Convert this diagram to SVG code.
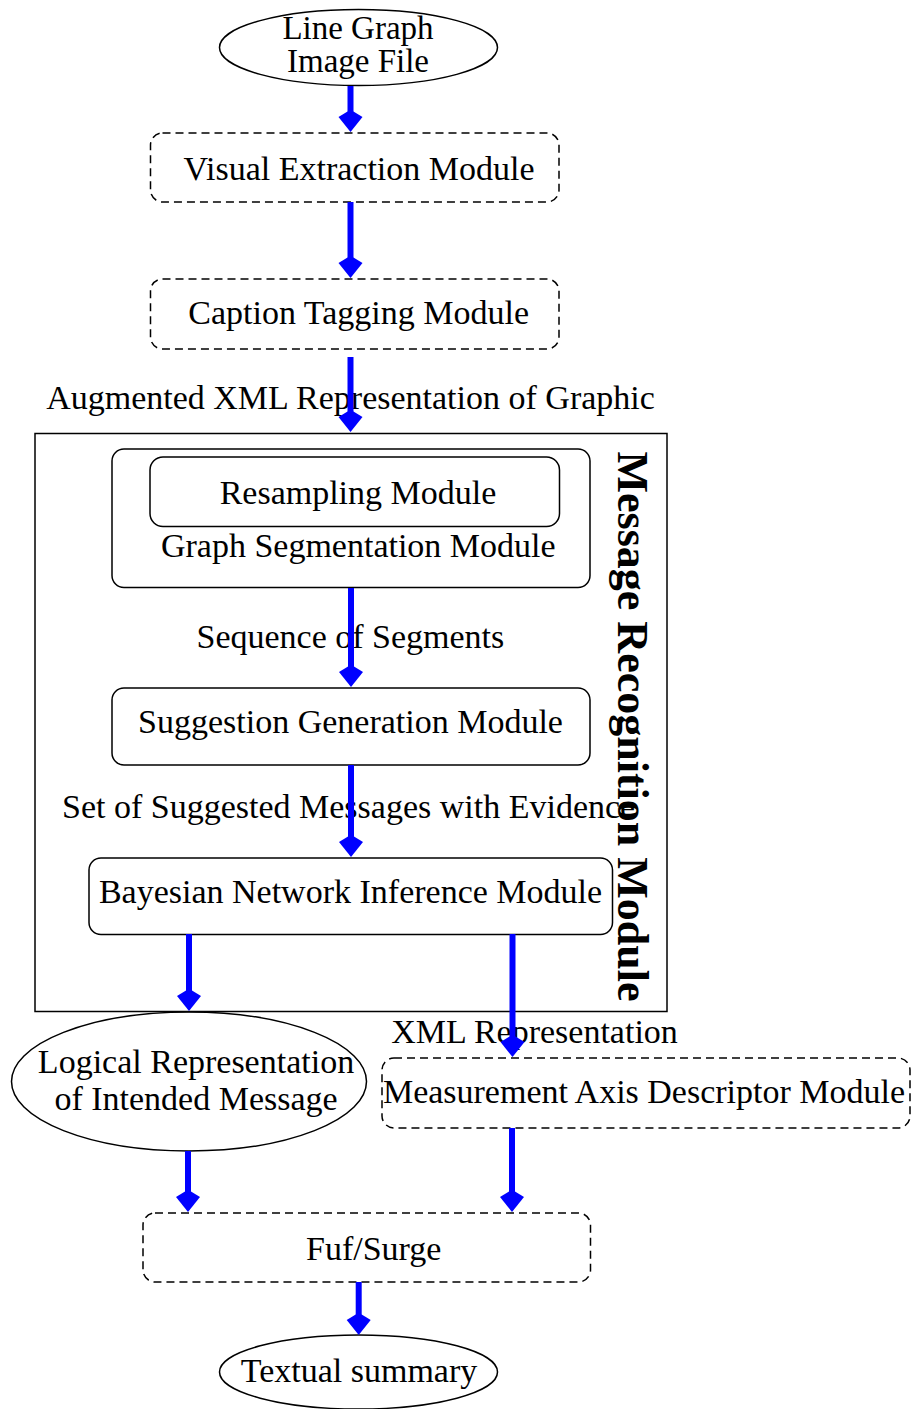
<svg xmlns="http://www.w3.org/2000/svg" xmlns:xlink="http://www.w3.org/1999/xlink" width="914" height="1409" viewBox="0 0 914 1409">
<style>
text{font-family:"Liberation Serif","Times New Roman",serif;font-size:34px;fill:#000;text-anchor:middle}
.solid{fill:none;stroke:#000;stroke-width:1.5}
.dash{fill:none;stroke:#000;stroke-width:1.5;stroke-dasharray:8 5}
.conn line{stroke:#0000ff;stroke-width:6}
.conn use{fill:#0000ff}
</style>
<defs>
<path id="ah" d="M-3,-20.5 L3,-20.5 L12,-15 L0,0 L-12,-15 Z"/>
</defs>
<rect width="914" height="1409" fill="#fff"/>

<g id="line-graph">
<ellipse class="solid" cx="358.5" cy="47.5" rx="139" ry="38"/>
<text x="358" y="39" style="font-size:33px">Line Graph</text>
<text x="358" y="72" style="font-size:33px">Image File</text>
</g>

<g id="visual-extraction">
<rect class="dash" x="150.5" y="133" width="408.5" height="69" rx="12"/>
<text x="359" y="180">Visual Extraction Module</text>
</g>

<g id="caption-tagging">
<rect class="dash" x="150.5" y="279" width="408.5" height="70" rx="12"/>
<text x="358.7" y="324">Caption Tagging Module</text>
</g>

<g id="augmented-label">
<text x="350.5" y="409">Augmented XML Representation of Graphic</text>
</g>

<g id="message-recognition">
<rect class="solid" x="35" y="433.5" width="632" height="578"/>
<text transform="translate(618,726.5) rotate(90)" style="font-weight:bold;font-size:44px">Message Recognition Module</text>
</g>

<g id="graph-segmentation">
<rect class="solid" x="112" y="449" width="478" height="138.5" rx="12"/>
<text x="358.3" y="556.5">Graph Segmentation Module</text>
</g>

<g id="resampling">
<rect class="solid" x="150" y="457" width="409.5" height="69.5" rx="13"/>
<text x="358" y="504">Resampling Module</text>
</g>

<g id="sequence-label">
<text x="350.4" y="648">Sequence of Segments</text>
</g>

<g id="suggestion-generation">
<rect class="solid" x="112" y="688" width="478" height="77" rx="12"/>
<text x="350.5" y="733">Suggestion Generation Module</text>
</g>

<g id="suggested-label">
<text x="62" y="818" style="text-anchor:start">Set of Suggested Messages with Evidence</text>
</g>

<g id="bayesian">
<rect class="solid" x="89" y="858" width="523.5" height="76.5" rx="12"/>
<text x="350.5" y="903">Bayesian Network Inference Module</text>
</g>

<g id="logical-representation">
<ellipse class="solid" cx="189" cy="1081.5" rx="177.5" ry="69.5"/>
<text x="196" y="1073">Logical Representation</text>
<text x="196" y="1110">of Intended Message</text>
</g>

<g id="xml-label">
<text x="534.5" y="1043">XML Representation</text>
</g>

<g id="measurement-axis">
<rect class="dash" x="382" y="1058" width="528" height="70" rx="12"/>
<text x="644" y="1103">Measurement Axis Descriptor Module</text>
</g>

<g id="fuf-surge">
<rect class="dash" x="143" y="1213" width="447.5" height="69" rx="12"/>
<text x="373.7" y="1260">Fuf/Surge</text>
</g>

<g id="textual-summary">
<ellipse class="solid" cx="358.5" cy="1372" rx="139" ry="37"/>
<text x="359" y="1382">Textual summary</text>
</g>

<g id="connectors" class="conn">
<line x1="350.5" y1="86" x2="350.5" y2="112"/>
<use xlink:href="#ah" x="350.5" y="132"/>
<line x1="350.5" y1="202" x2="350.5" y2="258"/>
<use xlink:href="#ah" x="350.5" y="278"/>
<line x1="350.5" y1="357" x2="350.5" y2="412"/>
<use xlink:href="#ah" x="350.5" y="432"/>
<line x1="351" y1="588" x2="351" y2="667"/>
<use xlink:href="#ah" x="351" y="687"/>
<line x1="351" y1="765" x2="351" y2="837"/>
<use xlink:href="#ah" x="351" y="857"/>
<line x1="189" y1="934" x2="189" y2="991"/>
<use xlink:href="#ah" x="189" y="1011"/>
<line x1="512.5" y1="934" x2="512.5" y2="1037"/>
<use xlink:href="#ah" x="512.5" y="1057"/>
<line x1="188" y1="1151" x2="188" y2="1192"/>
<use xlink:href="#ah" x="188" y="1212"/>
<line x1="512" y1="1128" x2="512" y2="1192"/>
<use xlink:href="#ah" x="512" y="1212"/>
<line x1="358.7" y1="1282" x2="358.7" y2="1315"/>
<use xlink:href="#ah" x="358.7" y="1335"/>
</g>
</svg>
